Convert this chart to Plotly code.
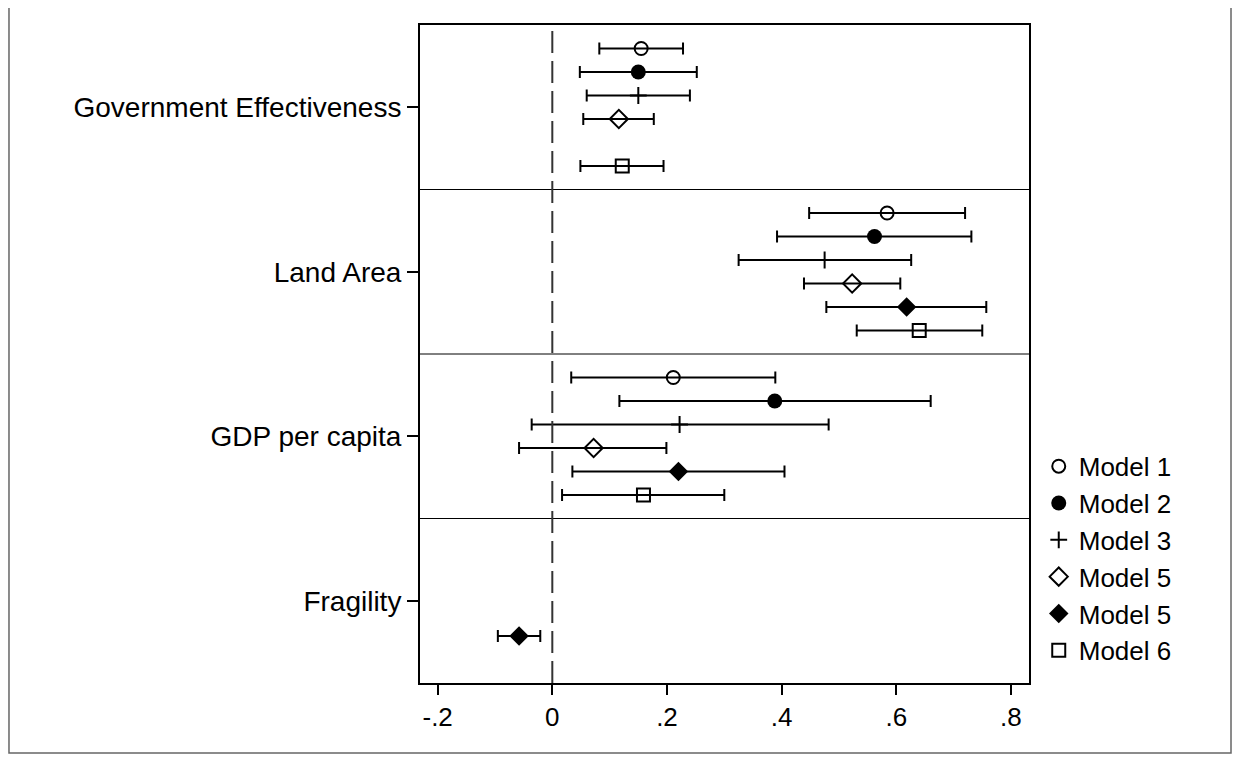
import plotly.graph_objects as go

variables = ["Government Effectiveness", "Land Area", "GDP per capita", "Fragility"]
models = ["Model 1", "Model 2", "Model 3", "Model 5", "Model 5", "Model 6"]

# point estimates per model, ordered as `variables` (None = not in model)
est_m1 = [0.155, 0.584, 0.211, None]
est_m2 = [0.150, 0.562, 0.388, None]
est_m3 = [0.150, 0.475, 0.222, None]
est_m5a = [0.116, 0.523, 0.072, None]
est_m5b = [None, 0.618, 0.220, -0.058]
est_m6 = [0.122, 0.640, 0.159, None]

lo_m1 = [0.082, 0.448, 0.033, None]
lo_m2 = [0.048, 0.392, 0.117, None]
lo_m3 = [0.060, 0.325, -0.036, None]
lo_m5a = [0.054, 0.439, -0.058, None]
lo_m5b = [None, 0.478, 0.035, -0.095]
lo_m6 = [0.049, 0.531, 0.017, None]

hi_m1 = [0.228, 0.720, 0.389, None]
hi_m2 = [0.252, 0.731, 0.660, None]
hi_m3 = [0.240, 0.626, 0.482, None]
hi_m5a = [0.177, 0.607, 0.199, None]
hi_m5b = [None, 0.757, 0.405, -0.021]
hi_m6 = [0.194, 0.750, 0.300, None]

x_ticks = [-0.2, 0, 0.2, 0.4, 0.6, 0.8]
x_ticklabels = ["-.2", "0", ".2", ".4", ".6", ".8"]

ests = [est_m1, est_m2, est_m3, est_m5a, est_m5b, est_m6]
los = [lo_m1, lo_m2, lo_m3, lo_m5a, lo_m5b, lo_m6]
his = [hi_m1, hi_m2, hi_m3, hi_m5a, hi_m5b, hi_m6]

styles = [
    dict(symbol="circle-open", size=13, line=dict(width=2, color="black"), color="black"),
    dict(symbol="circle", size=15, color="black"),
    dict(symbol="cross-thin", size=12, line=dict(width=2, color="black"), color="black"),
    dict(symbol="diamond-open", size=14, line=dict(width=2, color="black"), color="black"),
    dict(symbol="diamond", size=15, color="black"),
    dict(symbol="square-open", size=13, line=dict(width=2, color="black"), color="black"),
]

GROUP = 7  # slots per variable panel
FONT = "Liberation Sans, Arial, Helvetica, sans-serif"

fig = go.Figure()
for k, (name, e, lo, hi, st) in enumerate(zip(models, ests, los, his, styles)):
    xs, ys, ep, em = [], [], [], []
    for g, val in enumerate(e):
        if val is None:
            continue
        xs.append(val)
        ys.append(GROUP * g + k + 1)
        ep.append(hi[g] - val)
        em.append(val - lo[g])
    fig.add_trace(go.Scatter(
        x=xs, y=ys, mode="markers", name=name, marker=st,
        error_x=dict(type="data", symmetric=False, array=ep, arrayminus=em,
                     color="black", thickness=2, width=6),
        showlegend=True,
    ))

n_groups = len(variables)
# panel dividers
for g in range(1, n_groups):
    fig.add_shape(type="line", xref="paper", yref="y", x0=0, x1=1,
                  y0=GROUP * g, y1=GROUP * g, line=dict(color="black", width=1))
# zero reference line
fig.add_shape(type="line", xref="x", yref="paper", x0=0, x1=0, y0=0, y1=1,
              line=dict(color="#333333", width=2, dash="22px,8px"))
# outer border (left, right, bottom)
fig.add_shape(type="rect", xref="paper", yref="paper",
              x0=-0.6749, x1=1.3317, y0=-0.1064, y1=1.06,
              line=dict(color="#666666", width=1.5))

fig.update_layout(
    width=1224, height=746,
    margin=dict(l=412, r=203, t=17, b=71),
    paper_bgcolor="white", plot_bgcolor="white",
    font=dict(family=FONT, size=26, color="black"),
    showlegend=True,
    legend=dict(x=1.016, y=0.365, xanchor="left", yanchor="top",
                font=dict(size=26, family=FONT), bgcolor="rgba(0,0,0,0)",
                tracegroupgap=0),
    xaxis=dict(range=[-0.2308, 0.8315], tickvals=x_ticks, ticktext=x_ticklabels,
               ticks="outside", ticklen=10, tickwidth=1.5, tickcolor="black",
               showline=True, linecolor="black", linewidth=2, mirror=True,
               showgrid=False, zeroline=False, tickfont=dict(size=26)),
    yaxis=dict(range=[GROUP * n_groups, 0],
               tickvals=[GROUP * g + GROUP / 2 for g in range(n_groups)],
               ticktext=variables,
               ticks="outside", ticklen=11, tickwidth=1.5, tickcolor="black",
               showline=True, linecolor="black", linewidth=2, mirror=True,
               showgrid=False, zeroline=False, tickfont=dict(size=28)),
)

fig.write_html("out.html")
